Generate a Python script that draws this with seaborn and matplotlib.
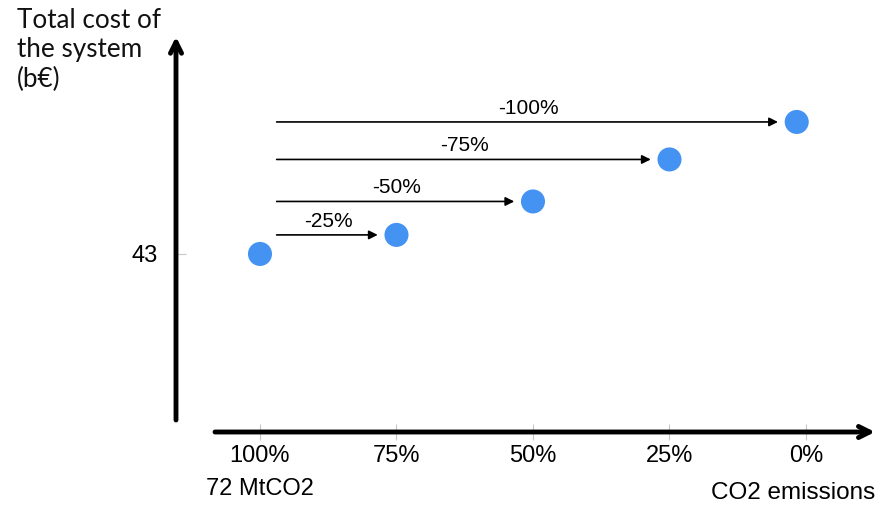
import numpy as np
import pandas as pd
import matplotlib
matplotlib.use("Agg")
import matplotlib.pyplot as plt
import seaborn as sns

# ---- data ----
emissions_pct = [100, 75, 50, 25, 1.7]          # remaining CO2 emissions (% of 72 MtCO2)
total_cost = [43.0, 44.27, 46.5, 49.3, 51.8]     # total cost of the system (b€)
reduction_labels = ["-25%", "-50%", "-75%", "-100%"]
x_ticks = [100, 75, 50, 25, 0]
x_tick_labels = ["100%\n72 MtCO2", "75%", "50%", "25%", "0%"]
y_ticks = [43]
y_tick_labels = ["43"]

sns.set_theme(style="white")
plt.rcParams["font.family"] = ["Liberation Sans", "DejaVu Sans"]

W, H = 876, 505
fig = plt.figure(figsize=(W / 100, H / 100), dpi=100)
ax = fig.add_axes([176 / W, 1 - 432 / H, 700 / W, 432 / H])
ax.set_facecolor("none")

df = pd.DataFrame({"emissions": emissions_pct, "cost": total_cost})
sns.scatterplot(data=df, x="emissions", y="cost", s=300, color="#4493F2",
                edgecolor="none", ax=ax, zorder=3, legend=False)

ax.set_xlim(115.38, -12.82)
ax.set_ylim(31.13, 59.93)
for sp in ax.spines.values():
    sp.set_visible(False)
ax.set_xlabel("")
ax.set_ylabel("")

ax.set_xticks(x_ticks)
ax.set_xticklabels(x_tick_labels, fontsize=17, color="black")
for lbl in ax.get_xticklabels():
    lbl.set_linespacing(1.65)
ax.set_yticks(y_ticks)
ax.set_yticklabels(y_tick_labels, fontsize=17, color="black")
ax.tick_params(axis="x", direction="inout", length=11, width=0.8, color="#c8c8c8",
               pad=4, bottom=True)
ax.tick_params(axis="y", direction="in", length=7, width=0.8, color="#c8c8c8",
               pad=13, left=True)

# axis arrows
ax.annotate("", xy=(0.9986, 0), xytext=(0.0557, 0), xycoords="axes fraction",
            arrowprops=dict(arrowstyle="->", lw=3.5, color="black",
                            mutation_scale=20, shrinkA=0, shrinkB=0), zorder=1)
ax.annotate("", xy=(0, 0.915), xytext=(0, 0.0278), xycoords="axes fraction",
            arrowprops=dict(arrowstyle="->", lw=3.5, color="black",
                            mutation_scale=20, shrinkA=0, shrinkB=0), zorder=1)

# reduction arrows and labels
x0 = emissions_pct[0]
for xi, yi, lab in zip(emissions_pct[1:], total_cost[1:], reduction_labels):
    ax.annotate("", xy=(xi, yi), xytext=(x0, yi),
                arrowprops=dict(arrowstyle="-|>", lw=1.2, color="black",
                                mutation_scale=13, shrinkA=12, shrinkB=13.5))
    ax.annotate(lab, xy=((x0 + xi) / 2, yi), xytext=(0, 3), textcoords="offset points",
                ha="center", va="bottom", fontsize=15, color="black")

fig.text(17 / W, 1 - 8 / H, "Total cost of\nthe system\n(b€)", ha="left", va="top",
         fontsize=18.8, linespacing=1.22, family=["Lato", "DejaVu Sans"], color="#111111")
fig.text(875 / W, 1 - 493 / H, "CO2 emissions", ha="right", va="center",
         fontsize=17.5, color="black")

fig.savefig("out.png", dpi=100)
